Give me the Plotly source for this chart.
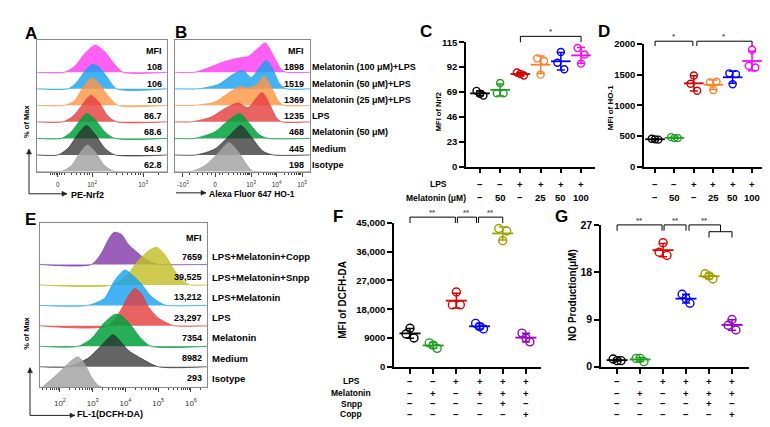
import numpy as np
import plotly.graph_objects as go

W, H = 770, 427
FONT = "Liberation Sans, Arial, sans-serif"

# ======================= DATA =======================
# Panels A/B: flow-cytometry overlays (top row first)
AB_labels = ["Melatonin (100 μM)+LPS", "Melatonin (50 μM)+LPS", "Melatonin (25 μM)+LPS",
             "LPS", "Melatonin (50 μM)", "Medium", "Isotype"]
A_mfi = ["108", "106", "100", "86.7", "68.6", "64.9", "62.8"]
B_mfi = ["1898", "1519", "1369", "1235", "468", "445", "198"]

# outline points: x in display (log-decade) units, h = height in row units
A_hist_x = [
    [1.46, 1.66, 1.86, 2.06, 2.25, 2.45, 2.61],
    [1.53, 1.69, 1.86, 1.99, 2.12, 2.28, 2.48],
    [1.46, 1.66, 1.82, 1.99, 2.12, 2.31, 2.51],
    [1.43, 1.63, 1.79, 1.97, 2.12, 2.31, 2.48],
    [1.40, 1.59, 1.76, 1.89, 2.05, 2.25, 2.45],
    [1.33, 1.53, 1.73, 1.89, 2.05, 2.25, 2.45],
    [1.40, 1.59, 1.76, 1.91, 2.05, 2.25, 2.45],
]
A_hist_h = [
    [0, 0.36, 1.14, 1.64, 1.24, 0.45, 0],
    [0, 0.37, 1.07, 1.46, 1.36, 0.77, 0],
    [0, 0.30, 1.08, 1.67, 1.38, 0.59, 0],
    [0, 0.35, 0.95, 1.60, 1.24, 0.35, 0],
    [0, 0.39, 1.07, 1.50, 1.17, 0.39, 0],
    [0, 0.41, 1.28, 1.78, 1.28, 0.41, 0],
    [0, 0.34, 1.10, 1.60, 1.22, 0.34, 0],
]
B_hist_x = [
    [0.79, 1.31, 1.97, 2.49, 2.88, 3.27, 3.56, 3.86, 4.19, 4.38],
    [0.92, 1.71, 2.29, 2.69, 3.01, 3.27, 3.60, 3.86, 4.12, 4.38],
    [0.79, 1.58, 2.16, 2.56, 2.95, 3.27, 3.51, 3.80, 4.06, 4.29],
    [0.66, 1.44, 2.03, 2.49, 2.88, 3.21, 3.43, 3.73, 3.99, 4.19],
    [0.79, 1.58, 2.10, 2.56, 2.95, 3.34, 3.67],
    [0.86, 1.58, 2.16, 2.60, 3.01, 3.47, 3.86],
    [0.66, 1.18, 1.71, 2.13, 2.49, 2.82, 3.08],
]
B_hist_h = [
    [0, 0.26, 0.65, 0.85, 0.95, 1.44, 1.78, 1.05, 0.16, 0],
    [0, 0.26, 0.87, 1.10, 0.67, 1.16, 1.72, 1.16, 0.30, 0],
    [0, 0.20, 0.79, 1.12, 1.05, 1.32, 1.78, 1.08, 0.30, 0],
    [0, 0.30, 0.85, 1.14, 0.85, 1.44, 1.78, 1.05, 0.26, 0],
    [0, 0.39, 1.07, 1.50, 0.87, 0.20, 0],
    [0, 0.36, 1.18, 1.78, 1.08, 0.22, 0],
    [0, 0.34, 1.10, 1.74, 1.20, 0.43, 0],
]
A_tickvals = [1.33, 2, 3]
A_ticktext = ["0", "10<sup>2</sup>", "10<sup>3</sup>"]
B_tickvals = [0.33, 1.59, 3, 4, 5]
B_ticktext = ["-10<sup>3</sup>", "0", "10<sup>3</sup>", "10<sup>4</sup>", "10<sup>5</sup>"]

# Panel E
E_labels = ["LPS+Melatonin+Copp", "LPS+Melatonin+Snpp", "LPS+Melatonin", "LPS",
            "Melatonin", "Medium", "Isotype"]
E_mfi = ["7659", "39,525", "13,212", "23,297", "7354", "8982", "293"]
E_hist_x = [
    [2.96, 3.26, 3.47, 3.65, 3.87, 4.08, 4.28, 4.59, 4.89, 5.05],
    [3.60, 4.08, 4.38, 4.69, 4.94, 5.20, 5.50, 5.81, 5.96],
    [2.85, 3.36, 3.67, 3.98, 4.23, 4.48, 4.79, 5.09, 5.25],
    [3.47, 3.87, 4.08, 4.28, 4.48, 4.69, 4.99, 5.30, 5.50],
    [2.55, 2.96, 3.36, 3.67, 3.87, 4.18, 4.48, 4.79],
    [2.24, 2.85, 3.36, 3.62, 3.87, 4.08, 4.48, 5.00],
    [1.45, 1.53, 1.94, 2.35, 2.55, 2.75, 2.96, 3.16, 3.30],
]
E_hist_h = [
    [0, 0.54, 1.19, 1.57, 1.48, 1.00, 0.70, 0.29, 0.05, 0],
    [0, 0.54, 1.17, 1.65, 1.84, 1.49, 0.70, 0.12, 0],
    [0, 0.35, 1.22, 1.73, 1.46, 1.06, 0.43, 0.10, 0],
    [0, 0.80, 1.43, 1.82, 1.59, 0.95, 0.40, 0.12, 0],
    [0, 0.37, 1.16, 1.56, 1.51, 1.00, 0.37, 0],
    [0, 0.41, 1.20, 1.56, 1.20, 0.81, 0.41, 0],
    [0, 0.10, 0.67, 1.30, 1.49, 1.14, 0.51, 0.10, 0],
]
E_tickvals = [2, 3, 4, 5, 6]
E_ticktext = ["10<sup>2</sup>", "10<sup>3</sup>", "10<sup>4</sup>", "10<sup>5</sup>", "10<sup>6</sup>"]

# Panels C/D
CD_lps = ["−", "−", "+", "+", "+", "+"]
CD_mel = ["−", "50", "−", "25", "50", "100"]
C_values = [[70, 67.4, 65.6], [67.7, 77.3, 67.7], [87, 85.6, 84.2],
            [100, 85, 97.6], [96, 106, 90], [109.6, 95.2, 103.6]]
D_values = [[455, 445, 440], [481, 465, 465], [1354, 1487, 1238],
            [1375, 1249, 1385], [1523, 1344, 1510], [1645, 1909, 1619]]
C_ticks = [0, 23, 46, 69, 92, 115]
D_ticks = [0, 500, 1000, 1500, 2000]

# Panels F/G
FG_rows = ["LPS", "Melatonin", "Snpp", "Copp"]
FG_signs = [["−", "−", "+", "+", "+", "+"],
            ["−", "+", "−", "+", "+", "+"],
            ["−", "−", "−", "−", "+", "−"],
            ["−", "−", "−", "−", "−", "+"]]
F_values = [[10245, 12068, 9028], [7500, 6780, 5776], [19360, 23400, 19360],
            [13580, 12560, 11860], [43260, 39430, 42470], [10550, 9030, 7810]]
G_values = [[1.48, 1.17, 1.17], [1.6, 1.6, 0.98], [21.8, 23.6, 21.2],
            [13.8, 13.0, 12.1], [17.7, 17.3, 16.7], [7.9, 9.0, 7.0]]
F_ticks = [0, 9000, 18000, 27000, 36000, 45000]
F_ticktext = ["0", "9000", "18,000", "27,000", "36,000", "45,000"]
G_ticks = [0, 9, 18, 27]

# ======================= STYLE =======================
AB_colors = ["rgba(255,60,240,0.82)", "rgba(20,160,240,0.80)", "rgba(255,150,70,0.82)",
             "rgba(228,60,60,0.80)", "rgba(0,160,60,0.85)", "rgba(40,40,40,0.72)",
             "rgba(165,165,165,0.85)"]
E_colors = ["rgba(130,60,170,0.82)", "rgba(195,190,40,0.82)", "rgba(20,160,240,0.80)",
            "rgba(228,60,60,0.80)", "rgba(0,160,60,0.85)", "rgba(40,40,40,0.72)",
            "rgba(165,165,165,0.85)"]
CD_colors = ["#000000", "#1f9e1f", "#d00000", "#ff7f27", "#0000ff", "#ff00ff"]
FG_colors = ["#000000", "#1f9e1f", "#e00000", "#0000ff", "#a0a000", "#9a00c8"]
JITTER = [-0.17, 0.0, 0.17]

fig = go.Figure()
annotations, shapes = [], []


def X(px):
    return px / W


def Y(py):
    return 1 - py / H


def text(px, py, s, size=9, anchor="center", bold=True, color="black", angle=0):
    annotations.append(dict(x=X(px), y=Y(py), xref="paper", yref="paper", text=s,
                            showarrow=False, xanchor=anchor, yanchor="middle",
                            textangle=angle, borderpad=0,
                            font=dict(family=FONT, size=size, color=color,
                                      weight="bold" if bold else "normal")))


def line(x0, y0, x1, y1, color="black", width=1):
    shapes.append(dict(type="line", xref="paper", yref="paper", x0=X(x0), y0=Y(y0),
                       x1=X(x1), y1=Y(y1), line=dict(color=color, width=width)))


def arrow(tx, ty, hx, hy):
    """Line from tail (tx,ty) to head (hx,hy) with a small triangular head (pixels)."""
    line(tx, ty, hx, hy, "#222", 1)
    dx, dy = hx - tx, hy - ty
    L = (dx * dx + dy * dy) ** 0.5
    ux, uy = dx / L, dy / L
    bx, by = hx - 5 * ux, hy - 5 * uy
    px_, py_ = -uy * 2.5, ux * 2.5
    pts = [(hx, hy), (bx + px_, by + py_), (bx - px_, by - py_)]
    path = "M " + " L ".join("%f,%f" % (X(a), Y(b)) for a, b in pts) + " Z"
    shapes.append(dict(type="path", xref="paper", yref="paper", path=path,
                       fillcolor="#222", line=dict(color="#222", width=0.5)))


# ---------- axis definitions (pixel boxes) ----------
axes = {}


def hist_axis(n, xpx, ypx, xr, yr, tickvals, ticktext, minor_vals, tsize, standoff):
    axes["xaxis%s" % n] = dict(domain=[X(xpx[0]), X(xpx[1])], range=xr, showline=True,
                               mirror=True, linecolor="#8a8a8a", linewidth=1,
                               ticks="outside", ticklen=4, tickcolor="#444", tickwidth=1,
                               tickvals=tickvals, ticktext=ticktext, showgrid=False,
                               zeroline=False, ticklabelstandoff=standoff,
                               tickfont=dict(family=FONT, size=tsize, color="#333"),
                               anchor="y%s" % n,
                               minor=dict(tickmode="array", tickvals=minor_vals,
                                          ticks="outside", ticklen=2, tickcolor="#444",
                                          tickwidth=1, showgrid=False))
    axes["yaxis%s" % n] = dict(domain=[Y(ypx[1]), Y(ypx[0])], range=yr, showline=True,
                               mirror=True, linecolor="#8a8a8a", linewidth=1,
                               showticklabels=False, ticks="", showgrid=False,
                               zeroline=False, anchor="x%s" % n)


def dot_axis(n, xpx, ypx, xr, yr, tickvals, ticktext, tsize, ticklen=5):
    axes["xaxis%s" % n] = dict(domain=[X(xpx[0]), X(xpx[1])], range=xr, showline=True,
                               linecolor="black", linewidth=1.6, ticks="outside",
                               ticklen=ticklen, tickwidth=1.6, tickcolor="black",
                               tickvals=list(range(6)), showticklabels=False,
                               showgrid=False, zeroline=False, anchor="y%s" % n)
    axes["yaxis%s" % n] = dict(domain=[Y(ypx[1]), Y(ypx[0])], range=yr, showline=True,
                               linecolor="black", linewidth=1.6, ticks="outside",
                               ticklen=ticklen, tickwidth=1.6, tickcolor="black",
                               tickvals=tickvals, ticktext=ticktext, showgrid=False,
                               zeroline=False, anchor="x%s" % n,
                               tickfont=dict(family=FONT, size=tsize, color="black",
                                             weight="bold"))


def log_minors(decades):
    return [d + np.log10(k) for d in decades for k in range(2, 10)]


A_minor = [1.18, 1.22, 1.26, 1.30, 1.37, 1.41, 1.45] + [v for v in log_minors([1, 2, 3]) if 1.5 < v < 3.45]
B_minor = [0.6, 0.9, 1.1, 1.3, 1.45, 1.75, 1.9, 2.1, 2.3] + [v for v in log_minors([2, 3, 4, 5]) if 2.4 < v < 5.3]
E_minor = [v for v in log_minors([1, 2, 3, 4, 5, 6]) if 1.4 < v < 6.45]

hist_axis("", (29, 159), (27, 163), [0.92, 3.47], [-0.06, 7.94], A_tickvals, A_ticktext, A_minor, 6.5, 2)
hist_axis("2", (167, 302), (27, 163), [0.02, 5.31], [-0.06, 7.94], B_tickvals, B_ticktext, B_minor, 6.5, 2)
hist_axis("5", (32, 199), (215, 384), [1.39, 6.49], [0, 8.03], E_tickvals, E_ticktext, E_minor, 8, 4)

dot_axis("3", (458, 587), (29, 157), [-0.69, 5.69], [0, 115], C_ticks, [str(t) for t in C_ticks], 9.5)
dot_axis("4", (636, 758), (31, 157), [-0.57, 5.72], [0, 2000], D_ticks, [str(t) for t in D_ticks], 9.5)
dot_axis("6", (386, 533), (215, 363), [-0.69, 5.65], [0, 45000], F_ticks, F_ticktext, 9.5)
dot_axis("7", (593, 741), (217, 363), [-0.70, 5.74], [0, 27], G_ticks, [str(t) for t in G_ticks], 10.5)


def add_hist(xs_list, hs_list, colors, ax, xr):
    n = len(xs_list)
    for i in range(n):
        base = n - 1 - i
        xs = [xr[0]] + list(xs_list[i]) + [xr[1]]
        ys = [base] + [base + h for h in hs_list[i]] + [base]
        fig.add_trace(go.Scatter(x=xs, y=ys, mode="lines", fill="toself", fillcolor=colors[i],
                                 line=dict(color=colors[i], width=0.9, shape="spline", smoothing=0.7),
                                 xaxis="x" + ax, yaxis="y" + ax, hoverinfo="skip",
                                 showlegend=False))


add_hist(A_hist_x, A_hist_h, AB_colors, "", [0.92, 3.47])
add_hist(B_hist_x, B_hist_h, AB_colors, "2", [0.02, 5.31])
add_hist(E_hist_x, E_hist_h, E_colors, "5", [1.39, 6.49])


def add_dots(values, colors, ax, msize, mean_w):
    for i, vals in enumerate(values):
        c = colors[i]
        fig.add_trace(go.Scatter(x=[i + o for o in JITTER], y=vals, mode="markers",
                                 marker=dict(symbol="circle-open", size=msize, color=c,
                                             line=dict(width=1.4, color=c)),
                                 xaxis="x" + ax, yaxis="y" + ax, cliponaxis=False,
                                 showlegend=False, hoverinfo="skip"))
        m, sd = float(np.mean(vals)), float(np.std(vals, ddof=1))
        fig.add_trace(go.Scatter(x=[i], y=[m], mode="markers",
                                 marker=dict(symbol="line-ew", size=mean_w, color=c,
                                             line=dict(width=1.8, color=c)),
                                 error_y=dict(type="data", array=[sd], color=c,
                                              thickness=1.5, width=4),
                                 xaxis="x" + ax, yaxis="y" + ax, cliponaxis=False,
                                 showlegend=False, hoverinfo="skip"))


add_dots(C_values, CD_colors, "3", 7, 14)
add_dots(D_values, CD_colors, "4", 7, 14)
add_dots(F_values, FG_colors, "6", 8, 15)
add_dots(G_values, FG_colors, "7", 8, 15)


def cat_px(ax, i):
    xa = axes["xaxis" + ax]
    d0, d1 = xa["domain"]
    r0, r1 = xa["range"]
    return (d0 + (i - r0) / (r1 - r0) * (d1 - d0)) * W


# ---------- texts: histogram panels ----------
text(155, 38, "MFI", 9, "right")
for i, s in enumerate(A_mfi):
    text(155, 55 + 16.7 * i, s, 9, "right")
text(297, 38, "MFI", 9, "right")
for i, s in enumerate(B_mfi):
    text(297, 55 + 16.7 * i, s, 9, "right")
    text(303, 55 + 16.7 * i, AB_labels[i], 9, "left")
text(195, 230, "MFI", 9, "right")
for i, s in enumerate(E_mfi):
    text(195, 250 + 20.8 * i, s, 9, "right")
    text(203, 250 + 20.8 * i, E_labels[i], 9.5, "left")

text(19, 111, "% of Max", 7.5, angle=-90)
arrow(21, 185, 21, 139)
arrow(21, 185, 59, 185)
text(62, 186, "PE-Nrf2", 9, "left")
arrow(168, 184, 198, 184)
text(200, 185, "Alexa Fluor 647 HO-1", 8.5, "left")
text(19, 329, "% of Max", 7.5, angle=-90)
arrow(22, 413, 22, 364)
arrow(22, 413, 67, 413)
text(68, 412, "FL-1(DCFH-DA)", 9, "left")

# ---------- texts: dot panels ----------
text(430, 101, "MFI of Nrf2", 7.5, angle=-90)
text(602, 97, "MFI of HO-1", 8, angle=-90)
text(335, 294, "MFI of DCFH-DA", 10, angle=-90)
text(565, 289, "NO Production(μM)", 10, angle=-90)

text(430, 175, "LPS", 8.5)
text(428, 189, "Melatonin (μM)", 8.5)
for ax in ["3", "4"]:
    for i in range(6):
        text(cat_px(ax, i), 175, CD_lps[i], 9.5)
        text(cat_px(ax, i), 189, CD_mel[i], 9.5)

row_y = [378, 390, 401, 412]
for r, lab in enumerate(FG_rows):
    text(343, row_y[r], lab, 8.5)
    for ax in ["6", "7"]:
        for i in range(6):
            text(cat_px(ax, i), row_y[r], FG_signs[r][i], 9.5)


# ---------- significance brackets ----------
def bracket(ax, a, b, ytop, ybot, label, da=0.0, db=0.0):
    x1, x2 = cat_px(ax, a) + da, cat_px(ax, b) + db
    line(x1, ybot, x1, ytop)
    line(x1, ytop, x2, ytop)
    line(x2, ytop, x2, ybot)
    text((x1 + x2) / 2, ytop - 4.5, label, 8, color="#555")


bracket("3", 2, 5, 23, 29, "*")
bracket("4", 0, 2, 28, 33, "*", 0, -1)
bracket("4", 2, 5, 28, 33, "*", 3, 0)
bracket("6", 0, 2, 209, 215, "**", 0, -1)
bracket("6", 2, 3, 209, 215, "**", 1, -3)
bracket("6", 3, 4, 209, 215, "**", -1, 0)
bracket("7", 0, 2, 217, 223, "**", 0, -1)
bracket("7", 2, 3, 217, 223, "**", 1, 0)
# nested bracket in G
gx4, gx5 = cat_px("7", 4), cat_px("7", 5)
gmid = (gx4 + gx5) / 2
line(gx4, 230, gx4, 224)
line(gx4, 224, gx5, 224)
line(gx5, 224, gx5, 230)
gx3 = cat_px("7", 3) + 3
line(gx3, 223, gx3, 217)
line(gx3, 217, gmid, 217)
line(gmid, 217, gmid, 224)
text((gx3 + gmid) / 2, 212.5, "**", 8, color="#555")

# ---------- panel letters ----------
for lab, px, py in [("A", 23, 20), ("B", 173, 19), ("C", 418, 18), ("D", 596, 18),
                    ("E", 22, 211), ("F", 330, 208), ("G", 553, 208)]:
    text(px, py, lab, 17)

fig.update_layout(width=W, height=H, margin=dict(l=0, r=0, t=0, b=0),
                  paper_bgcolor="white", plot_bgcolor="rgba(0,0,0,0)",
                  showlegend=False, annotations=annotations, shapes=shapes,
                  font=dict(family=FONT), **axes)
fig.write_html("out.html")
